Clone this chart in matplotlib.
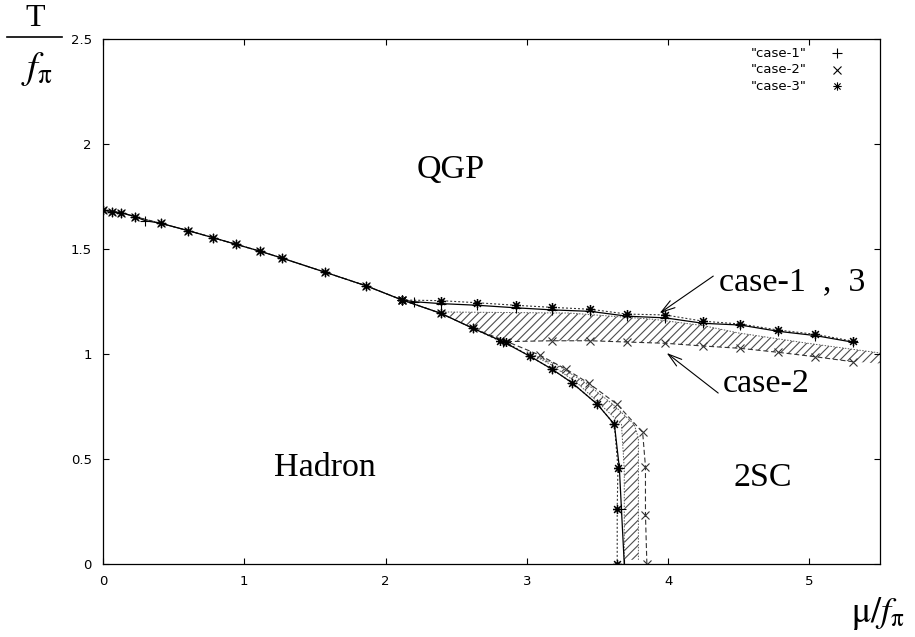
import matplotlib
matplotlib.use('Agg')
import matplotlib.pyplot as plt
from matplotlib.path import Path
from matplotlib.lines import Line2D

plt.rcParams['mathtext.fontset'] = 'stix'
plt.rcParams['hatch.linewidth'] = 0.8

# hadron/QGP line, common to all cases (mu/f_pi, T/f_pi)
mu_main = [0.0, 0.062, 0.128, 0.227, 0.411, 0.605, 0.778, 0.943, 1.109, 1.270, 1.574, 1.865, 2.118]
t_main = [1.686, 1.678, 1.673, 1.654, 1.622, 1.587, 1.554, 1.522, 1.490, 1.456, 1.389, 1.324, 1.257]

# case-1
mu1_main = [0.0, 0.062, 0.128, 0.227, 0.298, 0.411, 0.605, 0.778, 0.943, 1.109, 1.270, 1.574, 1.865, 2.118]
t1_main = [1.686, 1.678, 1.673, 1.654, 1.635, 1.622, 1.587, 1.554, 1.522, 1.490, 1.456, 1.389, 1.324, 1.257]
mu1_up = [2.118, 2.20, 2.39, 2.65, 2.92, 3.18, 3.45, 3.71, 3.98, 4.25, 4.51, 4.78, 5.04, 5.31]
t1_up = [1.257, 1.249, 1.240, 1.232, 1.220, 1.210, 1.203, 1.180, 1.172, 1.146, 1.138, 1.108, 1.088, 1.056]
mu1_low = [2.118, 2.39, 2.62, 2.83, 3.02, 3.18, 3.32, 3.50, 3.62, 3.655, 3.67, 3.69]
t1_low = [1.257, 1.194, 1.122, 1.059, 0.990, 0.927, 0.863, 0.760, 0.665, 0.459, 0.26, 0.0]

# case-2
mu2_low = [2.118, 2.39, 2.62, 2.86, 3.09, 3.28, 3.44, 3.64, 3.82, 3.84, 3.84, 3.85]
t2_low = [1.257, 1.194, 1.122, 1.059, 0.995, 0.927, 0.860, 0.760, 0.627, 0.463, 0.233, 0.0]
mu2_up = [2.86, 3.18, 3.45, 3.71, 3.98, 4.25, 4.51, 4.78, 5.04, 5.31]
t2_up = [1.059, 1.063, 1.063, 1.057, 1.051, 1.038, 1.027, 1.008, 0.987, 0.963]

# case-3
mu3_up = [2.118, 2.39, 2.65, 2.92, 3.18, 3.45, 3.71, 3.98, 4.25, 4.51, 4.78, 5.04, 5.31]
t3_up = [1.257, 1.254, 1.244, 1.232, 1.222, 1.213, 1.190, 1.186, 1.156, 1.143, 1.114, 1.094, 1.061]
mu3_low = [2.118, 2.39, 2.62, 2.81, 2.85, 3.02, 3.18, 3.32, 3.50, 3.62, 3.645, 3.64, 3.64]
t3_low = [1.257, 1.194, 1.122, 1.062, 1.057, 0.990, 0.927, 0.863, 0.760, 0.665, 0.459, 0.262, 0.0]

# shaded bands between the cases
band_up_top_mu = [2.42, 3.30, 3.90, 4.25, 4.50, 5.00, 5.50]
band_up_top_t = [1.20, 1.195, 1.165, 1.135, 1.10, 1.05, 1.005]
band_up_bot_mu = [2.42, 2.62, 2.86, 3.18, 3.45, 3.71, 3.98, 4.25, 4.51, 4.78, 5.04, 5.31, 5.50]
band_up_bot_t = [1.19, 1.125, 1.062, 1.063, 1.063, 1.057, 1.051, 1.038, 1.027, 1.008, 0.987, 0.963, 0.955]
band_low_left_mu = [3.00, 3.17, 3.36, 3.52, 3.67, 3.69, 3.69]
band_low_left_t = [1.01, 0.95, 0.86, 0.76, 0.665, 0.45, 0.02]
band_low_right_mu = [3.00, 3.21, 3.42, 3.61, 3.76, 3.79, 3.79]
band_low_right_t = [1.01, 0.95, 0.86, 0.76, 0.665, 0.60, 0.02]

# gnuplot style asterisk: + and x on top of each other
star = Path([(-1, 0), (1, 0), (0, -1), (0, 1), (-0.75, -0.75), (0.75, 0.75), (-0.75, 0.75), (0.75, -0.75)],
            [Path.MOVETO, Path.LINETO] * 4)

fig = plt.figure(figsize=(9.15, 6.37), dpi=100)
ax = fig.add_axes([0.1126, 0.1146, 0.8491, 0.8242])

# hatched bands
ax.fill(band_up_top_mu + band_up_bot_mu[::-1], band_up_top_t + band_up_bot_t[::-1],
        facecolor='none', edgecolor='0.3', hatch='////', linewidth=0)
ax.plot(band_up_top_mu, band_up_top_t, color='0.35', lw=0.7, ls=(0, (1.5, 1.5)))
ax.fill(band_low_left_mu + band_low_right_mu[::-1], band_low_left_t + band_low_right_t[::-1],
        facecolor='none', edgecolor='0.3', hatch='////', linewidth=0)
ax.plot(band_low_left_mu, band_low_left_t, color='0.35', lw=0.7, ls=(0, (1.5, 1.5)))
ax.plot(band_low_right_mu, band_low_right_t, color='0.35', lw=0.7, ls=(0, (1.5, 1.5)))

# case-2: dashed with x
for xs, ys in [(mu_main, t_main), (mu2_low, t2_low), (mu2_up, t2_up)]:
    ax.plot(xs, ys, color='0.2', lw=0.8, ls=(0, (4.5, 2.5)), marker='x', ms=6, mew=0.8)
# case-3: dotted with asterisks
for xs, ys in [(mu_main, t_main), (mu3_up, t3_up), (mu3_low, t3_low)]:
    ax.plot(xs, ys, color='0.2', lw=0.8, ls=(0, (1.8, 1.8)))
# case-1: solid with +
for xs, ys in [(mu1_main, t1_main), (mu1_up, t1_up), (mu1_low, t1_low)]:
    ax.plot(xs, ys, color='black', lw=0.9, ls='-', marker='+', ms=6.5, mew=0.8)
for xs, ys in [(mu_main, t_main), (mu3_up, t3_up), (mu3_low, t3_low)]:
    ax.plot(xs, ys, ls='none', color='black', marker=star, ms=6.5, mew=1.1, mfc='none')

# key
key_y = [0.973, 0.941, 0.910]
key_labels = ['"case-1"', '"case-2"', '"case-3"']
key_markers = [('+', 6.5), ('x', 5.5), (star, 6)]
for y, lab, (mk, ms) in zip(key_y, key_labels, key_markers):
    ax.text(0.905, y, lab, transform=ax.transAxes, ha='right', va='center', fontsize=9.5)
    ax.plot([0.945], [y], transform=ax.transAxes, ls='none', marker=mk, ms=ms,
            mew=0.8, color='black', mfc='none', clip_on=False)

# region names and curve labels
serif = 'Liberation Serif'
ax.text(2.46, 1.876, 'QGP', fontsize=24.5, family=serif, ha='center', va='center')
ax.text(1.57, 0.46, 'Hadron', fontsize=24.5, family=serif, ha='center', va='center')
ax.text(4.67, 0.41, '2SC', fontsize=24.5, family=serif, ha='center', va='center')
ax.text(4.36, 1.343, 'case-1  ,  3', fontsize=24.5, family=serif, ha='left', va='center')
ax.text(4.39, 0.857, 'case-2', fontsize=24.5, family=serif, ha='left', va='center')
arrow = dict(arrowstyle='->, head_length=1.0, head_width=0.3', color='black', lw=0.8,
             shrinkA=0, shrinkB=0)
ax.annotate('', xy=(3.94, 1.194), xytext=(4.32, 1.371), arrowprops=arrow)
ax.annotate('', xy=(3.99, 1.005), xytext=(4.355, 0.814), arrowprops=arrow)

ax.set_xlim(0, 5.5)
ax.set_ylim(0, 2.5)
ax.set_xticks([0, 1, 2, 3, 4, 5])
ax.set_yticks([0, 0.5, 1, 1.5, 2, 2.5])
ax.set_yticklabels(['0', '0.5', '1', '1.5', '2', '2.5'])
ax.tick_params(direction='in', length=4.3, width=0.8, top=True, right=True, labelsize=9.5, pad=8)
for s in ax.spines.values():
    s.set_linewidth(0.9)

# axis labels
fig.text(904 / 915, 1 - 613 / 637, r'$\mathrm{\mu}/f_{\mathrm{\pi}}$', fontsize=26, ha='right', va='center')
fig.text(35 / 915, 1 - 18 / 637, 'T', fontsize=23, family=serif, ha='center', va='center')
fig.add_artist(Line2D([7 / 915, 62 / 915], [1 - 37 / 637] * 2, color='black', lw=1.2,
                      transform=fig.transFigure))
fig.text(37 / 915, 1 - 69 / 637, r'$f_{\mathrm{\pi}}$', fontsize=28, ha='center', va='center')

fig.savefig('out.png', dpi=100)
